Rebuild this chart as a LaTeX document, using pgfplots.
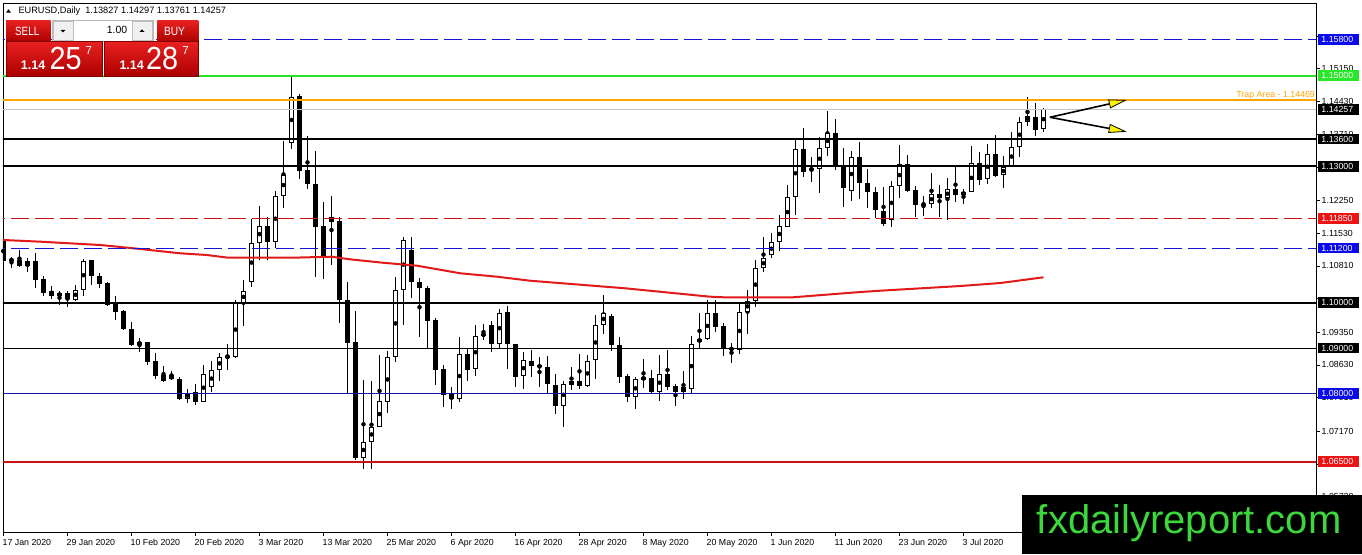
\documentclass[border=0pt]{standalone}
\usepackage{pgfplots}
\pgfplotsset{compat=1.18}
\usepackage{pgfplotstable}
\usepackage{graphicx}
\usepackage{fontspec}
\setmainfont{Liberation Sans}
\usetikzlibrary{arrows.meta}

\definecolor{lvblue}{RGB}{20,20,210}
\definecolor{lvgreen}{RGB}{40,225,40}
\definecolor{lvorange}{RGB}{255,165,0}
\definecolor{lvred}{RGB}{200,20,20}
\definecolor{lvnavy}{RGB}{20,20,165}
\definecolor{lbred}{RGB}{235,20,20}
\definecolor{lbgreen}{RGB}{40,230,40}
\definecolor{lbblue}{RGB}{10,10,235}
\definecolor{maRed}{RGB}{225,25,25}
\definecolor{wmgreen}{RGB}{60,215,60}
\definecolor{btnTop}{RGB}{232,32,32}
\definecolor{btnBot}{RGB}{172,0,0}

\pgfplotstableread{
i o h l c
0 1.1135 1.1142 1.1086 1.1092
1 1.1093 1.1101 1.1077 1.1095
2 1.1094 1.1116 1.1078 1.1080
3 1.1080 1.1099 1.1068 1.1092
4 1.1092 1.1109 1.1033 1.1051
5 1.1052 1.1059 1.1015 1.1021
6 1.1027 1.1036 1.1008 1.1014
7 1.1015 1.1026 1.0996 1.1021
8 1.1021 1.1027 1.0991 1.1008
9 1.1006 1.1039 1.1004 1.1029
10 1.1029 1.1096 1.1015 1.1092
11 1.1095 1.1095 1.1040 1.1059
12 1.1059 1.1065 1.1032 1.1042
13 1.1043 1.1045 1.0992 1.0995
14 1.1000 1.1015 1.0963 1.0980
15 1.0982 1.0984 1.0940 1.0942
16 1.0943 1.0957 1.0905 1.0907
17 1.0908 1.0923 1.0891 1.0913
18 1.0913 1.0914 1.0864 1.0870
19 1.0872 1.0889 1.0832 1.0839
20 1.0841 1.0860 1.0826 1.0828
21 1.0840 1.0850 1.0830 1.0832
22 1.0833 1.0837 1.0786 1.0789
23 1.0789 1.0811 1.0780 1.0802
24 1.0803 1.0821 1.0775 1.0782
25 1.0782 1.0863 1.0782 1.0844
26 1.0814 1.0872 1.0804 1.0852
27 1.0852 1.0890 1.0828 1.0881
28 1.0881 1.0909 1.0852 1.0882
29 1.0880 1.1006 1.0878 1.1002
30 1.1000 1.1051 1.0949 1.1026
31 1.1045 1.1184 1.1035 1.1132
32 1.1132 1.1213 1.1095 1.1170
33 1.1170 1.1189 1.1095 1.1134
34 1.1134 1.1246 1.1120 1.1236
35 1.1236 1.1356 1.1209 1.1282
36 1.1351 1.1498 1.1338 1.1454
37 1.1455 1.1459 1.1272 1.1291
38 1.1292 1.1367 1.1251 1.1261
39 1.1261 1.1335 1.1056 1.1167
40 1.1169 1.1222 1.1053 1.1103
41 1.1189 1.1236 1.1084 1.1178
42 1.1180 1.1189 1.0955 1.1006
43 1.1007 1.1046 1.0799 1.0912
44 1.0913 1.0982 1.0654 1.0659
45 1.0659 1.0830 1.0635 1.0693
46 1.0694 1.0828 1.0635 1.0726
47 1.0726 1.0886 1.0726 1.0784
48 1.0782 1.0894 1.0758 1.0880
49 1.0880 1.1057 1.0869 1.1029
50 1.1029 1.1145 1.0952 1.1139
51 1.1117 1.1144 1.1010 1.1045
52 1.1045 1.1055 1.0925 1.1032
53 1.1032 1.1037 1.0899 1.0960
54 1.0961 1.0966 1.0819 1.0852
55 1.0855 1.0863 1.0771 1.0798
56 1.0800 1.0815 1.0767 1.0789
57 1.0789 1.0924 1.0782 1.0888
58 1.0888 1.0899 1.0828 1.0852
59 1.0855 1.0951 1.0839 1.0927
60 1.0927 1.0953 1.0918 1.0932
61 1.0951 1.0960 1.0892 1.0910
62 1.0910 1.0986 1.0899 1.0978
63 1.0979 1.0993 1.0854 1.0909
64 1.0909 1.0910 1.0815 1.0837
65 1.0839 1.0892 1.0811 1.0873
66 1.0872 1.0896 1.0837 1.0861
67 1.0862 1.0880 1.0815 1.0858
68 1.0858 1.0883 1.0802 1.0820
69 1.0820 1.0844 1.0754 1.0773
70 1.0773 1.0828 1.0726 1.0822
71 1.0820 1.0858 1.0808 1.0827
72 1.0828 1.0887 1.0811 1.0817
73 1.0817 1.0884 1.0815 1.0872
74 1.0873 1.0973 1.0831 1.0952
75 1.0952 1.1017 1.0932 1.0977
76 1.0971 1.0975 1.0894 1.0907
77 1.0906 1.0924 1.0824 1.0837
78 1.0838 1.0842 1.0781 1.0792
79 1.0792 1.0837 1.0765 1.0831
80 1.0831 1.0876 1.0813 1.0836
81 1.0834 1.0852 1.0799 1.0804
82 1.0804 1.0885 1.0783 1.0844
83 1.0844 1.0896 1.0808 1.0814
84 1.0817 1.0821 1.0772 1.0803
85 1.0803 1.0850 1.0787 1.0815
86 1.0811 1.0927 1.0800 1.0910
87 1.0913 1.0977 1.0899 1.0921
88 1.0921 1.1006 1.0918 1.0977
89 1.0977 1.1007 1.0936 1.0947
90 1.0949 1.0955 1.0883 1.0899
91 1.0898 1.0912 1.0868 1.0899
92 1.0896 1.0999 1.0888 1.0980
93 1.0980 1.1029 1.0932 1.1004
94 1.1004 1.1094 1.0990 1.1076
95 1.1076 1.1144 1.1068 1.1098
96 1.1105 1.1153 1.1098 1.1133
97 1.1134 1.1194 1.1114 1.1169
98 1.1167 1.1259 1.1166 1.1232
99 1.1232 1.1358 1.1193 1.1338
100 1.1338 1.1384 1.1277 1.1288
101 1.1293 1.1321 1.1266 1.1294
102 1.1294 1.1365 1.1241 1.1340
103 1.1340 1.1423 1.1323 1.1373
104 1.1373 1.1404 1.1292 1.1298
105 1.1299 1.1340 1.1211 1.1253
106 1.1246 1.1335 1.1225 1.1321
107 1.1321 1.1354 1.1228 1.1263
108 1.1263 1.1294 1.1208 1.1243
109 1.1243 1.1255 1.1186 1.1204
110 1.1202 1.1254 1.1168 1.1173
111 1.1183 1.1268 1.1166 1.1257
112 1.1257 1.1347 1.1230 1.1305
113 1.1305 1.1325 1.1244 1.1246
114 1.1248 1.1257 1.1188 1.1215
115 1.1216 1.1235 1.1191 1.1217
116 1.1217 1.1285 1.1208 1.1239
117 1.1239 1.1259 1.1188 1.1230
118 1.1230 1.1274 1.1183 1.1250
119 1.1250 1.1299 1.1221 1.1237
120 1.1237 1.1250 1.1217 1.1244
121 1.1243 1.1344 1.1243 1.1307
122 1.1307 1.1332 1.1259 1.1270
123 1.1272 1.1349 1.1261 1.1327
124 1.1327 1.1369 1.1278 1.1279
125 1.1281 1.1323 1.1252 1.1299
126 1.1301 1.1375 1.1300 1.1343
127 1.1342 1.1408 1.1322 1.1398
128 1.1398 1.1452 1.1388 1.1412
129 1.1409 1.1439 1.1368 1.1380
130 1.13827 1.14297 1.13761 1.14257
}\candles

\pgfplotstableread{
i v
-1 1.11390
0 1.11381
4.6 1.11344
12.1 1.11271
17.1 1.11183
22.1 1.11088
25.4 1.11051
28.1 1.10991
36 1.10991
41 1.11013
43.3 1.10956
47.4 1.10881
51.7 1.10815
57.1 1.10648
61.7 1.10573
65.8 1.10485
77.7 1.10318
88.3 1.10133
90 1.10120
98.7 1.10120
102.1 1.10167
107.1 1.10236
109.6 1.10265
119.6 1.10368
124.6 1.10434
130 1.10560
}\mavals

\newcommand{\lvl}[2]{\addplot[#2] coordinates {(-2,#1) (170,#1)};}
\newcommand{\plbl}[3]{\node[fill=#2, text=white, anchor=west, inner xsep=3.5pt, inner ysep=0pt, minimum height=10.5pt, text width=34pt, align=left, font=\fontsize{8.8}{10}\selectfont] at (axis cs:164.275,#1) {#3};}

\begin{document}
\begin{tikzpicture}
\path[use as bounding box] (0pt,0pt) rectangle (1362pt,554pt);
\fill[white] (0pt,0pt) rectangle (1362pt,554pt);
\begin{axis}[
  at={(3pt,21.3pt)}, anchor=south west, scale only axis,
  width=1313pt, height=529.7pt,
  xmin=-0.0625, xmax=164.06, ymin=1.04937, ymax=1.16599,
  axis line style={black, line width=0.9pt},
  tick style={black, line width=0.8pt},
  tick align=outside, major tick length=3.5pt,
  xtick={0,8,...,120}, xtick pos=left,
  xticklabels={17 Jan 2020, 29 Jan 2020, 10 Feb 2020, 20 Feb 2020, 3 Mar 2020, 13 Mar 2020, 25 Mar 2020, 6 Apr 2020, 16 Apr 2020, 28 Apr 2020, 8 May 2020, 20 May 2020, 1 Jun 2020, 11 Jun 2020, 23 Jun 2020, 3 Jul 2020},
  xticklabel style={anchor=north west, inner sep=0pt, xshift=-1pt, yshift=-3pt},
  ytick={1.0573,1.0645,1.0717,1.0791,1.0863,1.0935,1.1009,1.1081,1.1153,1.1225,1.1299,1.1371,1.1443,1.1515,1.1587},
  yticklabels={1.05730,{},1.07170,1.07910,1.08630,1.09350,{},1.10810,1.11530,1.12250,{},1.13710,1.14430,1.15150,{}},
  ytick pos=right, yticklabel pos=right,
  yticklabel style={anchor=west, inner sep=0pt, xshift=2pt},
  tick label style={font=\fontsize{8.8}{10}\selectfont},
  clip mode=individual,
]
% wicks
\addplot[only marks, mark=none, error bars/.cd, y dir=both, y explicit, error mark=none,
  error bar style={black, line width=1pt}]
  table[x=i, y expr={(\thisrow{h}+\thisrow{l})/2}, y error expr={(\thisrow{h}-\thisrow{l})/2}] {\candles};
% bodies (black outline / bear fill)
\addplot[only marks, mark=none, error bars/.cd, y dir=both, y explicit, error mark=none,
  error bar style={black, line width=5pt}]
  table[x=i, y expr={(\thisrow{o}+\thisrow{c})/2}, y error expr={max(abs(\thisrow{c}-\thisrow{o})/2,0.00011)}] {\candles};
% bull interiors
\addplot[only marks, mark=none, error bars/.cd, y dir=both, y explicit, error mark=none,
  error bar style={white, line width=3pt}]
  table[x=i, y expr={(\thisrow{o}+\thisrow{c})/2}, y error expr={max((\thisrow{c}-\thisrow{o})/2-0.00022,0)}] {\candles};
% moving average
\addplot[maRed, line width=2pt, mark=none] table[x=i, y=v] {\mavals};
% levels
\lvl{1.158}{lvblue, line width=1pt, dash pattern=on 18pt off 6pt}
\lvl{1.150}{lvgreen, line width=2pt}
\lvl{1.14469}{lvorange, line width=2pt}
\lvl{1.14257}{gray!45, line width=0.8pt}
\lvl{1.136}{black, line width=2pt}
\lvl{1.130}{black, line width=2pt}
\lvl{1.1185}{lvred, line width=1pt, dash pattern=on 18pt off 6pt}
\lvl{1.112}{lvblue, line width=1pt, dash pattern=on 18pt off 6pt}
\lvl{1.100}{black, line width=2pt}
\lvl{1.090}{black, line width=1pt}
\lvl{1.080}{lvnavy, line width=1pt}
\lvl{1.065}{lvred, line width=2pt}
% arrows
\addplot[black, line width=1.6pt, -{Triangle[length=18pt, width=9pt, fill=yellow, line width=0.8pt]}] coordinates {(130.8,1.14083) (140.4,1.14463)};
\addplot[black, line width=1.6pt, -{Triangle[length=18pt, width=9pt, fill=yellow, line width=0.8pt]}] coordinates {(130.8,1.14083) (140.4,1.13765)};
% trap area text
\node[anchor=base east, inner sep=0pt, text=lvorange, font=\fontsize{8.8}{10}\selectfont, yshift=2pt] at (axis cs:163.94,1.14469) {Trap Area - 1.14469};
% price labels
\plbl{1.158}{lbblue}{1.15800}
\plbl{1.150}{lbgreen}{1.15000}
\plbl{1.14257}{black}{1.14257}
\plbl{1.136}{black}{1.13600}
\plbl{1.130}{black}{1.13000}
\plbl{1.1185}{lbred}{1.11850}
\plbl{1.112}{lbblue}{1.11200}
\plbl{1.100}{black}{1.10000}
\plbl{1.090}{black}{1.09000}
\plbl{1.080}{lbblue}{1.08000}
\plbl{1.065}{lbred}{1.06500}
\end{axis}
\begin{scope}[x=1pt,y=1pt]
% title
\fill[black] (6,541.3) -- (11,541.3) -- (8.5,544.7) -- cycle;
\node[anchor=base west, inner sep=0pt, font=\fontsize{9.2}{10}\selectfont] at (18.3,540.7) {EURUSD,Daily\hspace{5pt}1.13827 1.14297 1.13761 1.14257};
% one-click trading panel
\draw[gray!55, fill=white] (51.7,512.3) rectangle (153.3,534);
\draw[gray!50, fill=gray!12] (53.5,514) rectangle (73,532.3);
\fill[black] (60.5,524) -- (65.5,524) -- (63,521.5) -- cycle;
\draw[gray!50, fill=gray!12] (132,514) rectangle (151.7,532.3);
\fill[black] (139.5,522) -- (144.5,522) -- (142,524.5) -- cycle;
\node[anchor=base east, inner sep=0pt, font=\fontsize{10.5}{12}\selectfont] at (127.5,520) {1.00};
\shade[top color=btnTop, bottom color=btnBot] (6,512.3) rectangle (50.7,533.3);
\shade[top color=btnTop, bottom color=btnBot] (157.3,512.3) rectangle (198.3,533.3);
\draw[red!35!white, line width=0.8pt] (10,513) -- (46.7,513);
\draw[red!35!white, line width=0.8pt] (161,513) -- (194.5,513);
\node[anchor=base, inner sep=0pt, text=white, font=\fontsize{12}{14}\selectfont] at (27.2,518) {\scalebox{0.82}[1]{SELL}};
\node[anchor=base, inner sep=0pt, text=white, font=\fontsize{12}{14}\selectfont] at (174.5,518) {\scalebox{0.85}[1]{BUY}};
\shade[top color=btnTop, bottom color=btnBot, draw=red!50!black] (6,478) rectangle (101.7,512.3);
\shade[top color=btnTop, bottom color=btnBot, draw=red!50!black] (104.3,478) rectangle (198.3,512.3);
\node[anchor=base west, inner sep=0pt, text=white, font=\bfseries\fontsize{12.5}{14}\selectfont] at (20.7,484) {1.14};
\node[anchor=base west, inner sep=0pt, text=white, font=\fontsize{32}{36}\selectfont] at (49.3,484) {\scalebox{0.9}[1]{25}};
\node[anchor=base west, inner sep=0pt, text=white, font=\fontsize{11.5}{13}\selectfont] at (85.5,499) {7};
\node[anchor=base west, inner sep=0pt, text=white, font=\bfseries\fontsize{12.5}{14}\selectfont] at (119.3,484) {1.14};
\node[anchor=base west, inner sep=0pt, text=white, font=\fontsize{32}{36}\selectfont] at (146,484) {\scalebox{0.9}[1]{28}};
\node[anchor=base west, inner sep=0pt, text=white, font=\fontsize{11.5}{13}\selectfont] at (182.2,499) {7};
% watermark
\fill[black] (1021.7,0) rectangle (1362,59);
\node[anchor=base west, inner sep=0pt, text=wmgreen, font=\fontsize{40}{44}\selectfont] at (1036.7,20) {fxdailyreport.com};
\end{scope}
\end{tikzpicture}
\end{document}
